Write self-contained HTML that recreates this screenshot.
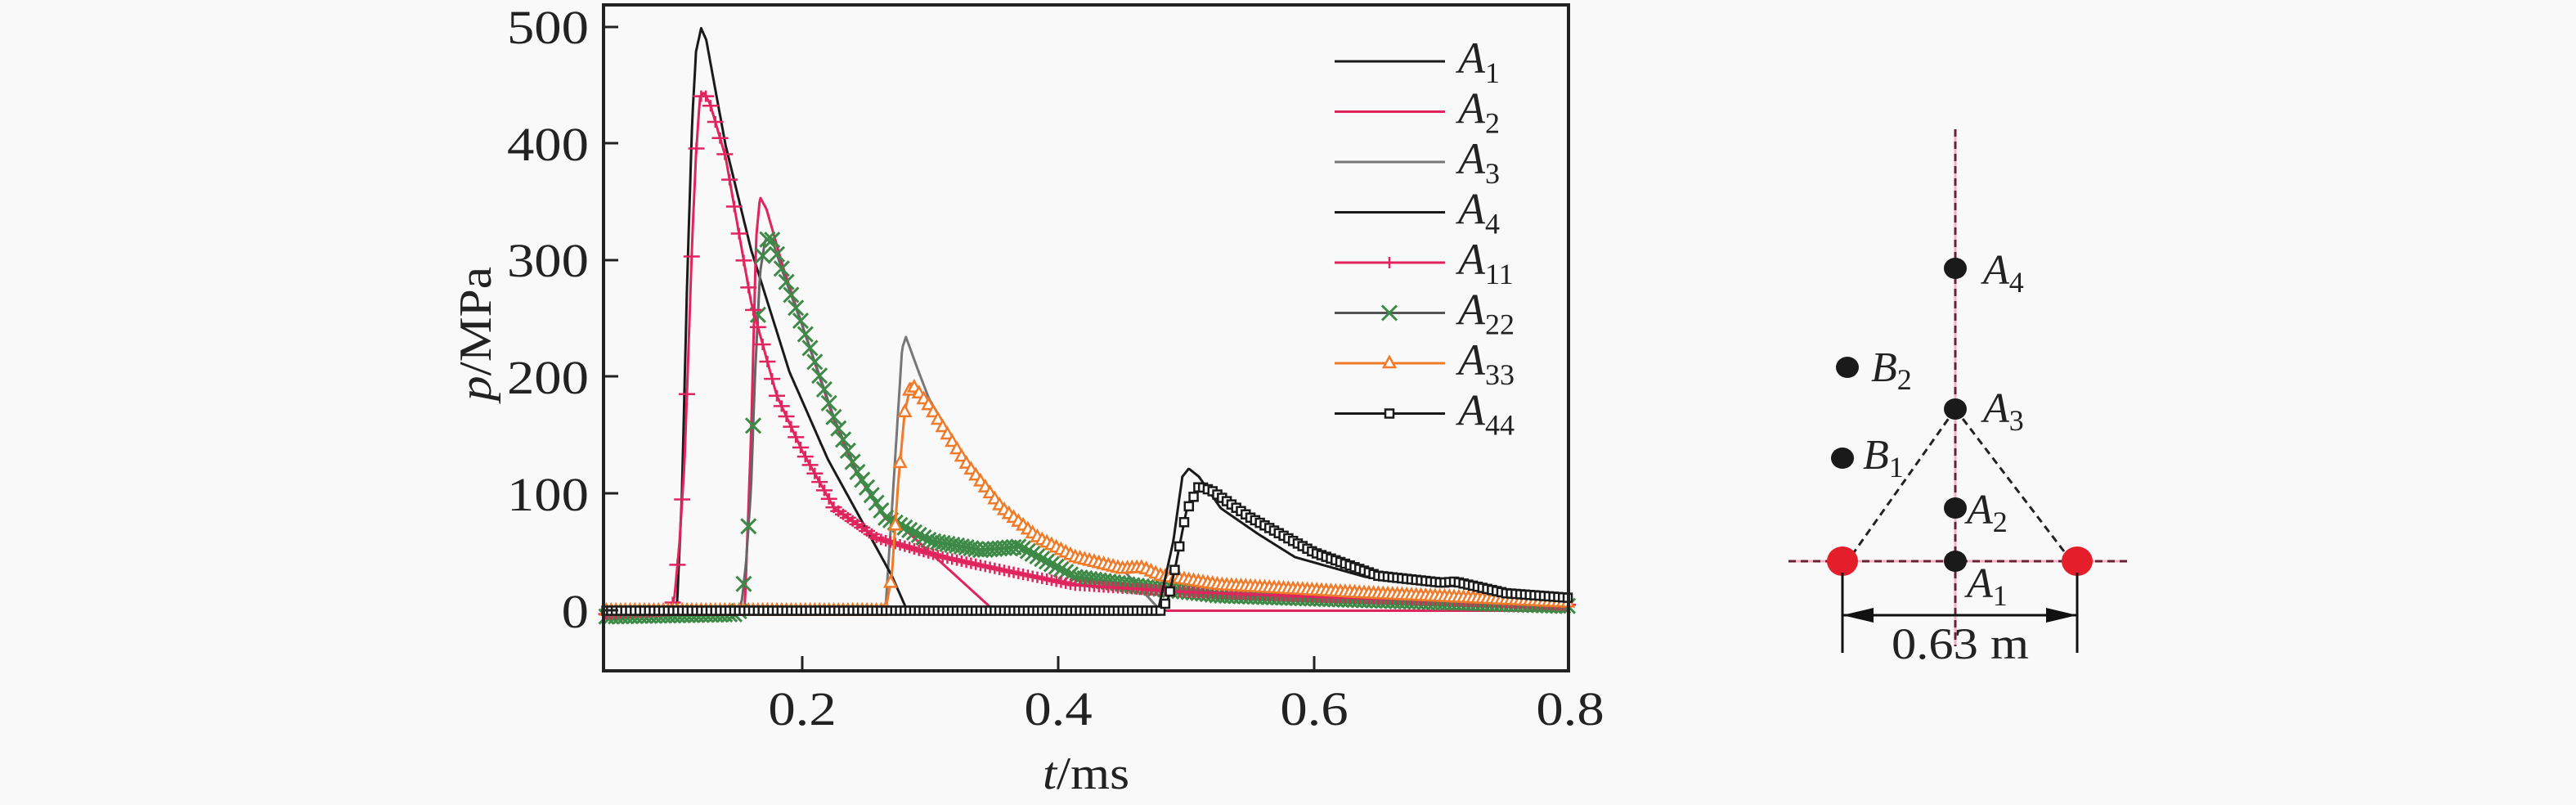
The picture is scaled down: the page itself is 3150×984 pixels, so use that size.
<!DOCTYPE html>
<html><head><meta charset="utf-8"><style>
html,body{margin:0;padding:0;background:#f9f9f9;}
svg{display:block;}
text{font-family:"Liberation Serif",serif;fill:#222;}
</style></head><body>
<svg id="s" width="3150" height="984" viewBox="0 0 3150 984" xmlns="http://www.w3.org/2000/svg">
<rect width="3150" height="984" fill="#f9f9f9"/>
<g id="curves"></g>
<rect x="738" y="6" width="1180" height="814" fill="none" stroke="#222" stroke-width="4"/>
<g stroke="#222" stroke-width="3">
<line x1="738" y1="33" x2="756" y2="33"/><line x1="738" y1="175" x2="756" y2="175"/><line x1="738" y1="318" x2="756" y2="318"/><line x1="738" y1="460" x2="756" y2="460"/><line x1="738" y1="603" x2="756" y2="603"/><line x1="738" y1="746" x2="756" y2="746"/>
<line x1="981" y1="820" x2="981" y2="802"/><line x1="1294" y1="820" x2="1294" y2="802"/><line x1="1607" y1="820" x2="1607" y2="802"/>
</g>
<g font-size="58" text-anchor="end">
<text transform="translate(720,53) scale(1.15,1)">500</text><text transform="translate(720,196) scale(1.15,1)">400</text><text transform="translate(720,338) scale(1.15,1)">300</text><text transform="translate(720,481) scale(1.15,1)">200</text><text transform="translate(720,624) scale(1.15,1)">100</text><text transform="translate(720,767) scale(1.15,1)">0</text>
</g>
<g font-size="58" text-anchor="middle">
<text transform="translate(981,886) scale(1.15,1)">0.2</text><text transform="translate(1294,886) scale(1.15,1)">0.4</text><text transform="translate(1607,886) scale(1.15,1)">0.6</text><text transform="translate(1920,886) scale(1.15,1)">0.8</text>
</g>
<text transform="translate(1328,964) scale(1.1,1)" font-size="56" text-anchor="middle"><tspan font-style="italic">t</tspan>/ms</text>
<text transform="translate(600,408) rotate(-90) scale(1.1,1)" font-size="56" text-anchor="middle"><tspan font-style="italic">p</tspan>/MPa</text>
<g id="legend"></g>
<!-- diagram -->
<line x1="2391" y1="158" x2="2391" y2="790" stroke="#f3b0c4" stroke-width="3"/>
<line x1="2391" y1="158" x2="2391" y2="790" stroke="#6a2035" stroke-width="3" stroke-dasharray="9,6"/>
<line x1="2187" y1="686" x2="2601" y2="686" stroke="#f3b0c4" stroke-width="3"/>
<line x1="2187" y1="686" x2="2601" y2="686" stroke="#6a2035" stroke-width="3" stroke-dasharray="9,6"/>
<line x1="2391" y1="500" x2="2265" y2="678" stroke="#222" stroke-width="3" stroke-dasharray="9,6"/>
<line x1="2391" y1="500" x2="2527" y2="678" stroke="#222" stroke-width="3" stroke-dasharray="9,6"/>
<ellipse cx="2253" cy="686" rx="19" ry="18" fill="#e41e2a"/>
<ellipse cx="2540" cy="686" rx="19" ry="18" fill="#e41e2a"/>
<g fill="#1a1a1a">
<ellipse cx="2391" cy="328" rx="14" ry="13"/><ellipse cx="2391" cy="500" rx="14" ry="13"/><ellipse cx="2391" cy="621" rx="14" ry="13"/><ellipse cx="2391" cy="686" rx="14" ry="13"/><ellipse cx="2259" cy="449" rx="14" ry="13"/><ellipse cx="2253" cy="560" rx="14" ry="13"/>
</g>
<g font-size="52">
<text x="2425" y="347"><tspan font-style="italic">A</tspan><tspan font-size="36" dy="10">4</tspan></text>
<text x="2425" y="516"><tspan font-style="italic">A</tspan><tspan font-size="36" dy="10">3</tspan></text>
<text x="2405" y="640"><tspan font-style="italic">A</tspan><tspan font-size="36" dy="10">2</tspan></text>
<text x="2405" y="730"><tspan font-style="italic">A</tspan><tspan font-size="36" dy="10">1</tspan></text>
<text x="2288" y="466"><tspan font-style="italic">B</tspan><tspan font-size="36" dy="10">2</tspan></text>
<text x="2278" y="573"><tspan font-style="italic">B</tspan><tspan font-size="36" dy="10">1</tspan></text>
</g>
<g stroke="#111" stroke-width="3">
<line x1="2253" y1="700" x2="2253" y2="798"/><line x1="2540" y1="700" x2="2540" y2="798"/>
<line x1="2253" y1="752" x2="2540" y2="752"/>
</g>
<polygon points="2253,752 2291,743 2291,761" fill="#111"/>
<polygon points="2540,752 2502,743 2502,761" fill="#111"/>
<text transform="translate(2397,805) scale(1.12,1)" font-size="54" text-anchor="middle">0.63 m</text>
</svg>
<script>
var NS="http://www.w3.org/2000/svg";
function X(t){return 981+(t-0.2)*1565;}
function Y(p){return 746.5-p*1.424;}
function interp(pts,t){
 if(t<=pts[0][0])return pts[0][1];
 for(var i=1;i<pts.length;i++){if(t<=pts[i][0]){var a=pts[i-1],b=pts[i];return a[1]+(b[1]-a[1])*(t-a[0])/(b[0]-a[0]);}}
 return pts[pts.length-1][1];
}
var T0=0.045,T1=0.8;
var A1=[[0.045,0],[0.102,0],[0.106,100],[0.11,280],[0.114,420],[0.117,480],[0.121,500],[0.125,490],[0.13,460],[0.14,400],[0.16,310],[0.19,205],[0.22,130],[0.25,70],[0.27,30],[0.282,0],[0.8,0]];
var A11=[[0.045,-3],[0.096,0],[0.1,10],[0.104,57],[0.108,127],[0.111,220],[0.114,317],[0.117,392],[0.12,440],[0.123,445],[0.128,435],[0.14,390],[0.16,265],[0.18,185],[0.2,137],[0.225,88],[0.259,62],[0.31,46],[0.356,35],[0.413,22],[0.5,16],[0.6,12],[0.7,9],[0.8,5]];
var A2=[[0.045,0],[0.155,0],[0.16,150],[0.164,320],[0.167,355],[0.172,345],[0.185,295],[0.2,245],[0.225,163],[0.242,119],[0.265,79],[0.28,70],[0.35,0],[0.8,0]];
var A22=[[0.045,-5],[0.15,-3],[0.153,10],[0.156,40],[0.16,105],[0.163,200],[0.167,290],[0.171,318],[0.176,320],[0.185,290],[0.2,245],[0.225,165],[0.242,121],[0.265,80],[0.3,60],[0.34,52],[0.37,55],[0.413,29],[0.47,20],[0.527,13],[0.64,9],[0.8,4]];
var A3=[[0.045,0],[0.265,0],[0.272,120],[0.278,225],[0.281,235],[0.29,208],[0.299,182],[0.327,130],[0.356,88],[0.385,62],[0.413,46],[0.45,36],[0.48,0],[0.8,0]];
var A33=[[0.045,0],[0.265,0],[0.27,30],[0.275,110],[0.28,170],[0.285,195],[0.299,176],[0.327,128],[0.356,88],[0.385,62],[0.413,46],[0.45,36],[0.466,37],[0.48,30],[0.527,22],[0.64,15],[0.8,7]];
var A4=[[0.045,0],[0.478,0],[0.49,60],[0.497,115],[0.502,122],[0.51,115],[0.527,88],[0.556,66],[0.585,46],[0.64,29],[0.7,22],[0.71,24],[0.756,13],[0.8,11]];
var A44=[[0.045,0],[0.48,0],[0.486,10],[0.492,40],[0.5,85],[0.51,107],[0.52,103],[0.55,80],[0.6,50],[0.65,30],[0.7,24],[0.71,25],[0.75,15],[0.8,11]];
var g=document.getElementById("curves");
function path(pts,col,w){
 var d="";for(var t=T0;t<=T1+1e-9;t+=0.0008){d+=(d?"L":"M")+X(t).toFixed(1)+","+Y(interp(pts,t)).toFixed(1);}
 var p=document.createElementNS(NS,"path");p.setAttribute("d",d);p.setAttribute("fill","none");p.setAttribute("stroke",col);p.setAttribute("stroke-width",w);p.setAttribute("stroke-linejoin","round");g.appendChild(p);
}
function marker(type,x,y,col,par){
 var e;
 if(type=="+"){e=document.createElementNS(NS,"path");e.setAttribute("d","M"+(x-10)+","+y+"h20M"+x+","+(y-7)+"v14");e.setAttribute("stroke",col);e.setAttribute("stroke-width","2.5");}
 else if(type=="x"){e=document.createElementNS(NS,"path");e.setAttribute("d","M"+(x-9)+","+(y-9)+"l18,18M"+(x-9)+","+(y+9)+"l18,-18");e.setAttribute("stroke",col);e.setAttribute("stroke-width","3");}
 else if(type=="^"){e=document.createElementNS(NS,"polygon");e.setAttribute("points",x+","+(y-8)+" "+(x-7)+","+(y+5)+" "+(x+7)+","+(y+5));e.setAttribute("fill","#fff");e.setAttribute("stroke",col);e.setAttribute("stroke-width","2.5");}
 else {e=document.createElementNS(NS,"rect");e.setAttribute("x",x-5);e.setAttribute("y",y-5);e.setAttribute("width",10);e.setAttribute("height",10);e.setAttribute("fill","#fff");e.setAttribute("stroke",col);e.setAttribute("stroke-width","2.5");}
 (par||g).appendChild(e);
}
function markers(pts,type,col){for(var t=T0+0.002;t<=T1;t+=0.0037){marker(type,X(t),Y(interp(pts,t)),col);}}
path(A3,"#777","3");
path(A1,"#1a1a1a","3");
path(A2,"#e0245e","3");
path(A22,"#666","3");markers(A22,"x","#3d8a46");
path(A11,"#e0245e","3");markers(A11,"+","#e0245e");
path(A33,"#f07a28","3");markers(A33,"^","#f07a28");
path(A4,"#1a1a1a","3");
path(A44,"#1a1a1a","3");markers(A44,"s","#1a1a1a");
var L=document.getElementById("legend");
var items=[["1","#1a1a1a",""],["2","#e0245e",""],["3","#777",""],["4","#1a1a1a",""],["11","#e0245e","+"],["22","#555","x"],["33","#f07a28","^"],["44","#1a1a1a","s"]];
var mc={"+":"#e0245e","x":"#3d8a46","^":"#f07a28","s":"#1a1a1a"};
items.forEach(function(it,i){
 var y=75+i*61.5;
 var l=document.createElementNS(NS,"line");l.setAttribute("x1",1632);l.setAttribute("x2",1767);l.setAttribute("y1",y);l.setAttribute("y2",y);l.setAttribute("stroke",it[1]);l.setAttribute("stroke-width","3");L.appendChild(l);
 if(it[2])marker(it[2],1699,y,mc[it[2]],L);
 var t=document.createElementNS(NS,"text");t.setAttribute("x",1783);t.setAttribute("y",y+14);t.setAttribute("font-size","54");
 t.innerHTML='<tspan font-style="italic">A</tspan><tspan font-size="36" dy="12">'+it[0]+'</tspan>';
 L.appendChild(t);
});
</script>
</body></html>
